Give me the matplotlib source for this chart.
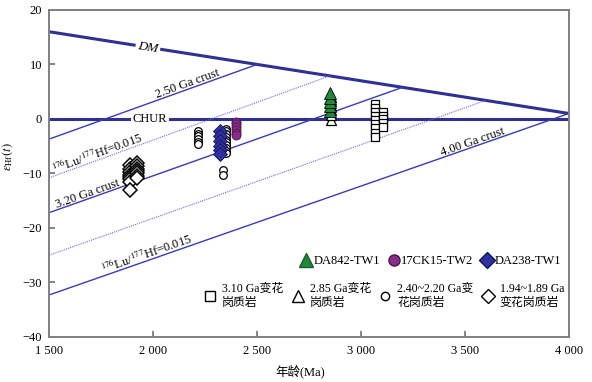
import numpy as np
import matplotlib
matplotlib.use("Agg")
import matplotlib.pyplot as plt
from matplotlib.lines import Line2D

plt.rcParams['font.family'] = ['Liberation Serif', 'Noto Sans CJK SC']
plt.rcParams['mathtext.fontset'] = 'stix'

# reference lines
dm_age = [1500, 4000]
dm_eps = [16.0, 1.0]
crust_age = [2500, 2850, 3200, 3600, 4000]      # model age where line meets DM
crust_e1500 = [-3.7, -10.8, -17.2, -25.0, -32.3]  # eps at 1500 Ma
crust_dotted = [False, True, False, True, False]

# samples (age Ma, eps Hf)
dia_age = [1890] * 8 + [1925] * 7
dia_eps = [-8.5, -9.2, -9.8, -10.2, -10.6, -11.0, -11.5, -13.0,
           -8.0, -8.6, -9.1, -9.5, -10.0, -10.4, -10.8]
cir_age = [2215] * 6 + [2335] * 2 + [2352] * 10
cir_eps = [-2.2, -2.7, -3.2, -3.7, -4.2, -4.6,
           -9.4, -10.2,
           -1.8, -2.3, -2.8, -3.3, -3.8, -4.3, -4.8, -5.3, -5.9, -6.3]
sq_age = [3067] * 9 + [3106] * 5
sq_eps = [2.8, 2.0, 1.2, 0.5, -0.2, -0.9, -1.7, -2.5, -3.3,
          1.3, 0.6, -0.1, -0.8, -1.5]
tri_age = [2855] * 6
tri_eps = [-0.2, 0.8, 1.6, 2.4, 3.2, 4.0]
grn_age = [2851] * 5
grn_eps = [1.4, 2.3, 3.1, 3.9, 4.8]
pur_age = [2397] * 6
pur_eps = [-0.5, -1.0, -1.5, -2.0, -2.5, -2.9]
blu_age = [2320] * 6
blu_eps = [-2.2, -3.1, -4.0, -4.9, -5.7, -6.5]

xticks = [1500, 2000, 2500, 3000, 3500, 4000]
xticklabels = ['1 500', '2 000', '2 500', '3 000', '3 500', '4 000']

line_c = '#2e3192'
thin_c = '#3a3ab8'
dot_c = '#6a6ad8'

fig = plt.figure(figsize=(5.92, 3.82), dpi=100)
ax = fig.add_axes([0.083, 0.118, 0.878, 0.856])
ax.set_xlim(1500, 4000)
ax.set_ylim(-40, 20)


def dm(t):
    return np.interp(t, dm_age, dm_eps)


ax.plot(dm_age, dm_eps, color=line_c, lw=2.2, zorder=2)
ax.axhline(0, color=line_c, lw=2.2, zorder=2)
slopes = []
for T, e0, dotted in zip(crust_age, crust_e1500, crust_dotted):
    x = np.array([1500, T])
    y = np.array([e0, dm(T)])
    slopes.append((y[1] - y[0]) / (T - 1500))
    if dotted:
        ax.plot(x, y, color=dot_c, lw=0.8, ls=(0, (1, 1)), zorder=2)
    else:
        ax.plot(x, y, color=thin_c, lw=1.0, zorder=2)

dm_slope = (dm_eps[1] - dm_eps[0]) / (dm_age[1] - dm_age[0])
fs = 9
ax.text(1975, dm(1975), 'DM', style='italic', fontsize=9.5, ha='center', va='center',
        rotation=np.degrees(np.arctan(dm_slope)), transform_rotates_text=True,
        rotation_mode='anchor', bbox=dict(fc='white', ec='none', pad=1.5), zorder=3)
ax.text(1985, 0, 'CHUR', fontsize=fs, ha='center', va='center',
        bbox=dict(fc='white', ec='none', pad=1.5), zorder=3)

crust_labels = [(0, 2170, '2.50 Ga crust'),
                (1, 1740, r'$^{176}$Lu/$^{177}$Hf=0.015'),
                (2, 1690, '3.20 Ga crust'),
                (4, 1975, r'$^{176}$Lu/$^{177}$Hf=0.015'),
                (4, 3540, '4.00 Ga crust')]
for i, xpos, lab in crust_labels:
    ypos = crust_e1500[i] + slopes[i] * (xpos - 1500)
    ax.text(xpos, ypos + 0.4, lab, fontsize=fs, ha='center', va='baseline',
            rotation=np.degrees(np.arctan(slopes[i])), transform_rotates_text=True,
            rotation_mode='anchor', zorder=3)

ax.plot(sq_age, sq_eps, 's', ms=6, mfc='white', mec='black', mew=0.9, ls='none', zorder=4)
ax.plot(tri_age, tri_eps, '^', ms=7, mfc='white', mec='black', mew=0.9, ls='none', zorder=4)
ax.plot(grn_age, grn_eps, '^', ms=9, mfc='#1f8a3c', mec='black', mew=0.6, ls='none', zorder=5)
ax.plot(cir_age, cir_eps, 'o', ms=5.5, mfc='white', mec='black', mew=0.9, ls='none', zorder=4)
ax.plot(blu_age, blu_eps, 'D', ms=7.5, mfc='#2e32a0', mec='#141450', mew=0.6, ls='none', zorder=5)
ax.plot(pur_age, pur_eps, 'o', ms=6.5, mfc='#8b2c8b', mec='#4a164a', mew=0.6, ls='none', zorder=5)
ax.plot(dia_age, dia_eps, 'D', ms=7.5, mfc='white', mec='black', mew=1.1, ls='none', zorder=4)

h1 = [Line2D([], [], marker='^', ms=10, mfc='#1f8a3c', mec='#1f5a2c', ls='none'),
      Line2D([], [], marker='o', ms=8, mfc='#8b2c8b', mec='#4a164a', ls='none'),
      Line2D([], [], marker='D', ms=8, mfc='#2e32a0', mec='#141450', ls='none')]
leg1 = ax.legend(h1, ['DA842-TW1', '17CK15-TW2', 'DA238-TW1'], ncol=3, frameon=False,
                 loc='center right', bbox_to_anchor=(0.995, 0.232), fontsize=fs,
                 handletextpad=0.0, columnspacing=0.5, handlelength=1.2, borderaxespad=0)
ax.add_artist(leg1)
h2 = [Line2D([], [], marker='s', ms=7, mfc='white', mec='black', ls='none'),
      Line2D([], [], marker='^', ms=8, mfc='white', mec='black', ls='none'),
      Line2D([], [], marker='o', ms=6, mfc='white', mec='black', ls='none'),
      Line2D([], [], marker='D', ms=7, mfc='white', mec='black', ls='none')]
ax.legend(h2, ['3.10 Ga变花\n岗质岩', '2.85 Ga变花\n岗质岩', '2.40~2.20 Ga变\n花岗质岩', '1.94~1.89 Ga\n变花岗质岩'],
          ncol=4, frameon=False, loc='center right', bbox_to_anchor=(1.0, 0.125),
          prop={'size': 8.6}, handletextpad=0.4, columnspacing=0.6, handlelength=1.2,
          borderaxespad=0, labelspacing=0.2)

ax.set_xticks(xticks)
ax.set_xticklabels(xticklabels)
ax.set_yticks(np.arange(-40, 21, 10))
ax.tick_params(direction='in', labelsize=fs, color='#707070', length=4, width=1.2)
ax.tick_params(axis='x', pad=6)
ax.tick_params(axis='y', pad=5)
for s in ax.spines.values():
    s.set_color('#808080')
    s.set_linewidth(1.4)
ax.set_xlabel('年龄(Ma)', fontsize=fs)
ax.xaxis.set_label_coords(0.483, -0.085)
ax.set_ylabel(r'$\varepsilon_{\rm Hf}(t)$', fontsize=fs)
ax.yaxis.set_label_coords(-0.065, 0.55)

fig.savefig('out.png', dpi=100)
